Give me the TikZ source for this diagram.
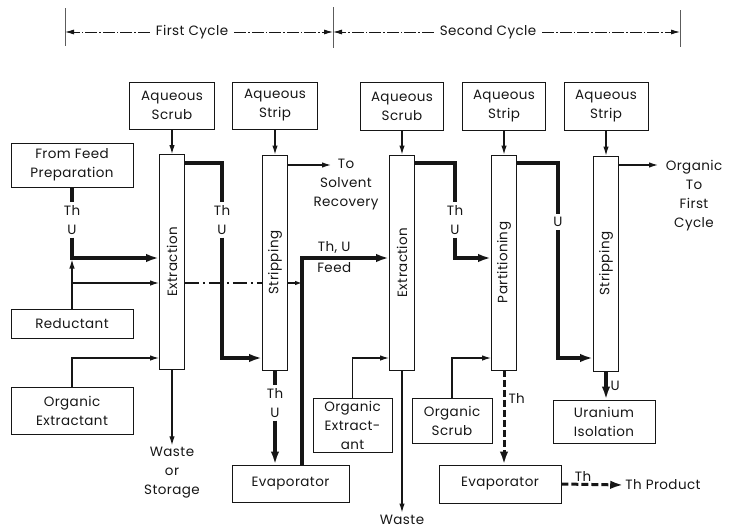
\documentclass[tikz,border=0pt]{standalone}
\usepackage{fontspec}
\setmainfont{Poppins}[LetterSpace=3]
\usepackage{tikz}
\usetikzlibrary{arrows.meta,positioning,calc}
\definecolor{ink}{RGB}{22,22,22}
\newcommand\flowfont{\fontsize{13.5}{19}\selectfont}
\tikzset{
  box/.style={draw=ink, line width=0.9pt, align=center, inner sep=1pt, font=\flowfont, text=ink},
  col/.style={draw=ink, fill=white, line width=0.9pt, minimum width=25pt, minimum height=215pt, inner sep=0pt},
  colt/.style={rotate=90, font=\flowfont, text=ink},
  txt/.style={font=\flowfont, text=ink, align=center, inner sep=2pt},
  lbl/.style={font=\flowfont, text=ink, align=center, inner sep=3pt},
  ln/.style={-{Latex[length=9pt,width=5.5pt]}, ink, line width=1.2pt},
  pl/.style={ink, line width=1.2pt},
  thk/.style={ink, line width=3.2pt},
  thkarr/.style={-{Latex[length=13pt,width=8.5pt]}, ink, line width=3.2pt},
  thkdash/.style={-{Latex[length=13pt,width=8.5pt]}, ink, line width=3pt, dash pattern=on 7pt off 3pt},
  ddash/.style={ink, line width=1.2pt, dash pattern=on 14pt off 4pt on 2pt off 4pt},
  span/.style={-{Latex[length=9pt,width=5pt]}, ink, line width=0.8pt, dash pattern=on 12pt off 2pt on 1.5pt off 2pt},
  tck/.style={ink!70, line width=0.7pt},
}
\begin{document}
\begin{tikzpicture}[x=1pt,y=-1pt]
  \useasboundingbox (0,0) rectangle (729,530);
  % cycle span at the top
  \draw[tck] (65,8) -- (65,46);
  \draw[tck] (333,7) -- (333,48);
  \draw[tck] (680,10) -- (680,47);
  \coordinate (cL) at (65,32);
  \coordinate (cM) at (333,32);
  \coordinate (cR) at (680,32);
  \node[txt] (fc) at (192,32) {First Cycle};
  \node[txt] (sc) at (488,32) {Second Cycle};
  \draw[span] (fc.west) ++(-4,0) -- (cL);
  \draw[span] (fc.east) ++(4,0) -- (cM);
  \draw[span] (sc.west) ++(-4,0) -- (cM);
  \draw[span] (sc.east) ++(4,0) -- (cR);

  % flow levels
  \coordinate (yT) at (0,163);
  \coordinate (yO) at (0,165);
  \coordinate (yA) at (0,258);
  \coordinate (yB) at (0,283);
  \coordinate (yC) at (0,358);

  % columns
  \node[col, label={[colt]center:Extraction}] (ext1) at (172,262) {};
  \node[col, label={[colt]center:Stripping}] (strip1) at (275,262.5) {};
  \node[col, label={[colt]center:Extraction}] (ext2) at (402,262.5) {};
  \node[col, label={[colt]center:Partitioning}] (part) at (504,262.5) {};
  \node[col, label={[colt]center:Stripping}] (strip2) at (606,263.5) {};

  % aqueous feeds on top
  \node[box, minimum width=85pt, minimum height=47pt] (ascrub1) at (172,105.5) {Aqueous\\Scrub};
  \node[box, minimum width=85pt, minimum height=47pt] (astrip1) at (275,105.5) {Aqueous\\Strip};
  \node[box, minimum width=83pt, minimum height=48pt] (ascrub2) at (402,106) {Aqueous\\Scrub};
  \node[box, minimum width=83pt, minimum height=48pt] (astrip2) at (504,106) {Aqueous\\Strip};
  \node[box, minimum width=84pt, minimum height=48pt] (astrip3) at (606,106) {Aqueous\\Strip};
  \foreach \a/\b in {ascrub1/ext1, astrip1/strip1, ascrub2/ext2, astrip2/part, astrip3/strip2}
    \draw[ln] (\a.south) -- (\b.north);

  % first cycle inputs
  \node[box, minimum width=122pt, minimum height=44pt] (feed) at (72,165) {From Feed\\Preparation};
  \node[box, minimum width=122pt, minimum height=29pt] (red) at (72,323.5) {Reductant};
  \node[box, minimum width=122pt, minimum height=47pt] (oe1) at (72,410.5) {Organic\\Extractant};
  \node[lbl] (thu1) at (72,220) {Th\\U};
  \coordinate (f1) at (feed.south |- yA);
  \coordinate (r1) at (red.north |- yB);
  \draw[thk] (feed.south) -- (thu1.north);
  \draw[thkarr] (thu1.south) -- (f1) -- (ext1.west |- f1);
  \draw[pl] (red.north) -- (r1);
  \draw[ln] (r1) -- (ext1.west |- r1);
  \draw[ln, shorten >=1.5pt] (r1) -- (f1);
  \draw[ln] (oe1.north) |- (ext1.west |- yC);

  % extraction 1 to stripping 1
  \node[lbl] (thu2) at (222,220) {Th\\U};
  \draw[thk] (ext1.east |- yT) -| (thu2.north);
  \draw[thkarr] (thu2.south) |- (strip1.west |- yC);

  % evaporator 1 and recycled feed
  \node[box, minimum width=117pt, minimum height=37pt] (ev1) at (290.5,483.5) {Evaporator};
  \node[lbl] (thu3) at (275,403) {Th\\U};
  \draw[thk] (strip1.south) -- (thu3.north);
  \draw[thkarr] (thu3.south) -- (ev1.north -| thu3);
  \coordinate (f2) at (302,258);
  \draw[thkarr] (ev1.north -| f2) -- (f2) -- node[lbl, above, pos=0.37] {Th, U} node[lbl, below, pos=0.37] {Feed} (ext2.west |- f2);
  \draw[ddash] (ext1.east |- yB) -- (strip1.west |- yB);
  \draw[ddash, -{Latex[length=7pt,width=4.5pt]}] (strip1.east |- yB) -- (f2 |- yB);

  % first cycle outlets
  \node[txt] (ws) at (172,473) {Waste\\or\\Storage};
  \draw[ln] (ext1.south) -- (ws.north);
  \node[txt] (solv) at (346,185) {To\\Solvent\\Recovery};
  \coordinate (sr) at (331,165);
  \draw[ln] (strip1.east |- yO) -- (sr);

  % second cycle
  \node[box, minimum width=79pt, minimum height=54pt] (oe2) at (352.5,425) {Organic\\Extract-\\ant};
  \node[box, minimum width=80pt, minimum height=45pt] (os) at (452,420.5) {Organic\\Scrub};
  \node[box, minimum width=102pt, minimum height=43pt] (ui) at (604,421.5) {Uranium\\Isolation};
  \node[box, minimum width=122pt, minimum height=38pt] (ev2) at (500,484) {Evaporator};
  \draw[ln] (oe2.north) |- (ext2.west |- yC);
  \draw[ln] (os.north) |- (part.west |- yC);
  \node[txt] (w2) at (402,519.5) {Waste};
  \draw[ln] (ext2.south) -- (w2.north);

  \node[lbl] (thu4) at (455,220) {Th\\U};
  \draw[thk] (ext2.east |- yT) -| (thu4.north);
  \draw[thkarr] (thu4.south) |- (part.west |- yA);

  \node[lbl] (u1) at (558,222) {U};
  \draw[thk] (part.east |- yT) -| (u1.north);
  \draw[thkarr] (u1.south) |- (strip2.west |- yC);

  \draw[thkdash] (part.south) -- node[lbl, right, pos=0.3] {Th} (ev2.north -| part.south);
  \draw[thkarr] (strip2.south) -- node[lbl, right] {U} (ui.north -| strip2.south);

  \node[txt] (thp) at (663,485) {Th Product};
  \draw[thkdash] (ev2.east) -- node[lbl, above, pos=0.35, yshift=-2pt] {Th} (thp.west);

  \node[txt] (oc) at (694,195.5) {Organic\\To\\First\\Cycle};
  \coordinate (oce) at (658,165);
  \draw[ln] (strip2.east |- yO) -- (oce);
\end{tikzpicture}
\end{document}
